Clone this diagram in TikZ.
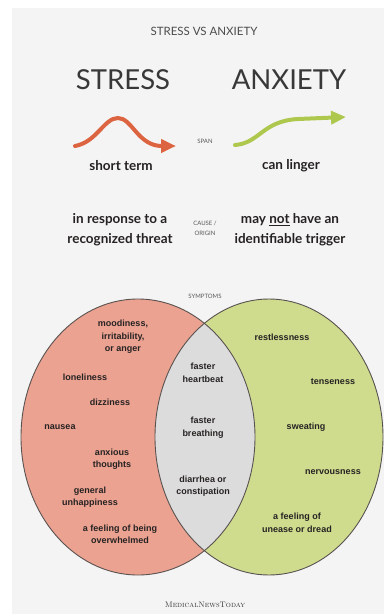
\documentclass[tikz,border=0pt]{standalone}
\usepackage{fontspec}
\usepackage{xcolor}
\usepackage{tikz}
\usetikzlibrary{arrows.meta,positioning}
\newfontfamily\latofont{Lato}
\newfontfamily\arialfont{Liberation Sans}
\definecolor{panelgray}{HTML}{F4F4F4}
\definecolor{stressred}{HTML}{DC6440}
\definecolor{anxgreen}{HTML}{AEC84E}
\definecolor{stressfill}{HTML}{EBA291}
\definecolor{anxfill}{HTML}{CFDC8E}
\definecolor{bothfill}{HTML}{DDDCDC}
\definecolor{rimgray}{HTML}{5A5250}
\definecolor{inkgray}{HTML}{262222}

\begin{document}
\begin{tikzpicture}[x=1pt,y=1pt,
  head/.style={font=\latofont\fontsize{27.5}{28}\selectfont, text=black!78},
  tag/.style={font=\latofont\fontsize{6}{10}\selectfont, text=black!65, align=center},
  point/.style={font=\latofont\bfseries\fontsize{13.5}{20}\selectfont, text=inkgray, align=center},
  sym/.style={font=\arialfont\bfseries\fontsize{9}{12.5}\selectfont, text=inkgray, align=center},
  curve/.style={line width=4pt, line cap=round}]
  \useasboundingbox (0,0) rectangle (384,-614);
  \fill[panelgray] (12,-8) rectangle (384,-614); %浅灰底板

  \node[font=\latofont\fontsize{11.5}{12}\selectfont, text=black!70] (title) at (204,-31) {STRESS VS ANXIETY};
  \node[head] (stress) at (123,-80) {STRESS};
  \node[head] (anxiety) at (289,-80) {ANXIETY};

  % 两条曲线
  \draw[curve, stressred, -{Triangle[length=15pt,width=13pt]}] (75,-146) .. controls (97,-142) and (104,-118) .. (118,-118) .. controls (132,-118) and (138,-146) .. (176,-146);
  \draw[curve, anxgreen, -{Triangle[length=15pt,width=13pt]}] (235,-145) .. controls (260,-143) and (262,-121) .. (298,-119) -- (346,-117);

  \node[tag] (span) at (205,-141) {SPAN};
  \node[point] (short) at (121,-166) {short term};
  \node[point] (linger) at (291,-166) {can linger};

  \node[point] (threat) at (120,-229.5) {in response to a\\recognized threat};
  \node[tag] (cause) at (205,-228) {CAUSE /\\ORIGIN};
  \node[point] (trigger) at (290,-229.5) {may \underline{not} have an\\identifiable trigger};

  \node[tag] (symptoms) at (205,-296) {SYMPTOMS};

  % 韦恩图
  \fill[stressfill] (138,-437) ellipse [x radius=117, y radius=138];
  \fill[anxfill] (269,-437) ellipse [x radius=114, y radius=138];
  \begin{scope}
    \clip (138,-437) ellipse [x radius=117, y radius=138];
    \fill[bothfill] (269,-437) ellipse [x radius=114, y radius=138];
  \end{scope}
  \draw[rimgray, line width=0.9pt] (138,-437) ellipse [x radius=117, y radius=138];
  \draw[rimgray, line width=0.9pt] (269,-437) ellipse [x radius=114, y radius=138];

  \node[sym] (mood) at (123,-337) {moodiness,\\irritability,\\or anger};
  \node[sym] (lonely) at (85,-377) {loneliness};
  \node[sym] (dizzy) at (110,-402) {dizziness};
  \node[sym] (nausea) at (60,-427) {nausea};
  \node[sym] (anxious) at (112,-459) {anxious\\thoughts};
  \node[sym] (unhappy) at (90,-497) {general\\unhappiness};
  \node[sym] (overwhelm) at (120,-534.5) {a feeling of being\\overwhelmed};

  \node[sym] (heart) at (203,-373) {faster\\heartbeat};
  \node[sym] (breath) at (203,-427.5) {faster\\breathing};
  \node[sym] (bowel) at (203,-486) {diarrhea or\\constipation};

  \node[sym] (restless) at (282,-337) {restlessness};
  \node[sym] (tense) at (333,-382) {tenseness};
  \node[sym] (sweat) at (306,-427) {sweating};
  \node[sym] (nervous) at (333,-472) {nervousness};
  \node[sym] (dread) at (297,-523) {a feeling of\\unease or dread};

  \node[font=\fontsize{8}{8}\selectfont\scshape, text=black!80] (logo) at (205,-605) {Medical\hspace{0pt}News\hspace{0pt}Today};
\end{tikzpicture}
\end{document}
